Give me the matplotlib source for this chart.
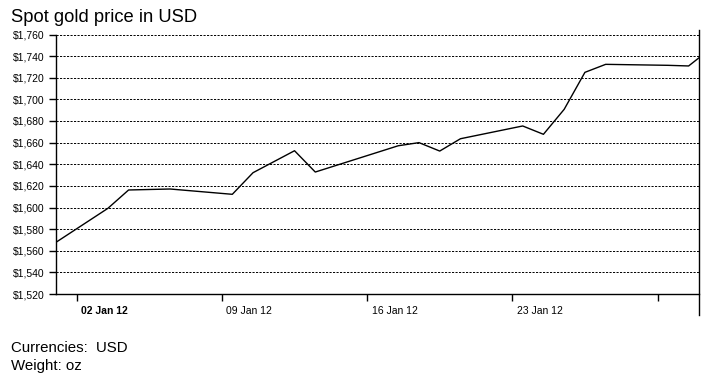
import matplotlib
matplotlib.use("Agg")
import matplotlib.pyplot as plt
import matplotlib.transforms as mtransforms
from matplotlib.ticker import FuncFormatter
import pandas as pd

plt.rcParams['font.family'] = ['Liberation Sans', 'DejaVu Sans']

# daily fix, plotted at midday
dates = ["2011-12-30", "2012-01-03", "2012-01-04", "2012-01-06", "2012-01-09",
         "2012-01-10", "2012-01-12", "2012-01-13", "2012-01-17", "2012-01-18",
         "2012-01-19", "2012-01-20", "2012-01-23", "2012-01-24", "2012-01-25",
         "2012-01-26", "2012-01-27", "2012-01-30", "2012-01-31", "2012-02-01"]
prices = [1549, 1599.2, 1616.2, 1617.1, 1612.2,
          1632.2, 1652.5, 1632.8, 1657.1, 1660.0,
          1652.2, 1663.6, 1675.4, 1667.7, 1690.8,
          1725.0, 1732.4, 1731.5, 1730.9, 1746.0]

tick_dates = ["2012-01-02", "2012-01-09", "2012-01-16", "2012-01-23", "2012-01-30"]
tick_labels = ["02 Jan 12", "09 Jan 12", "16 Jan 12", "23 Jan 12", ""]
y_ticks = list(range(1520, 1761, 20))

x = pd.to_datetime(dates) + pd.Timedelta(hours=12)

fig = plt.figure(figsize=(7.1, 3.8), dpi=100)
ax = fig.add_axes([56 / 710, 1 - 294 / 380, 643 / 710, 259.5 / 380])

ax.plot(x, prices, color='black', lw=1.0)

ax.set_xlim(pd.Timestamp("2012-01-01"), pd.Timestamp("2012-02-01"))
ax.set_ylim(1520, 1760)
ax.set_yticks(y_ticks)
ax.yaxis.set_major_formatter(FuncFormatter(lambda v, p: f"${v:,.0f}"))
ax.set_xticks(pd.to_datetime(tick_dates))
ax.set_xticklabels(tick_labels)

# dashed gridlines
for v in y_ticks[1:]:
    ax.axhline(v, color='black', lw=0.7, ls=(0, (2.2, 1.4)), zorder=1)

for s in ['top', 'right']:
    ax.spines[s].set_visible(False)
ax.spines['left'].set_linewidth(1.0)
ax.spines['bottom'].set_linewidth(1.0)
# right border runs a little beyond the plot area
ax.plot([1, 1], [-0.081, 1.017], color='black', lw=1.0, clip_on=False,
        transform=ax.transAxes)

ax.tick_params(axis='both', direction='out', length=5, width=1, colors='black',
               labelsize=7.5)
ax.tick_params(axis='y', pad=3)
ax.tick_params(axis='x', pad=4)

offset = mtransforms.ScaledTranslation(0.045, 0, fig.dpi_scale_trans)
for i, lab in enumerate(ax.get_xticklabels()):
    lab.set_horizontalalignment('left')
    lab.set_transform(lab.get_transform() + offset)
    if i == 0:
        lab.set_fontweight('bold')

fig.text(11 / 710, 1 - 22 / 380, "Spot gold price in USD", fontsize=13.2,
         va='baseline', ha='left')
fig.text(11 / 710, 1 - 352 / 380, "Currencies:  USD", fontsize=10.8,
         va='baseline', ha='left')
fig.text(11 / 710, 1 - 370 / 380, "Weight: oz", fontsize=10.8,
         va='baseline', ha='left')

fig.savefig("out.png", dpi=100)
